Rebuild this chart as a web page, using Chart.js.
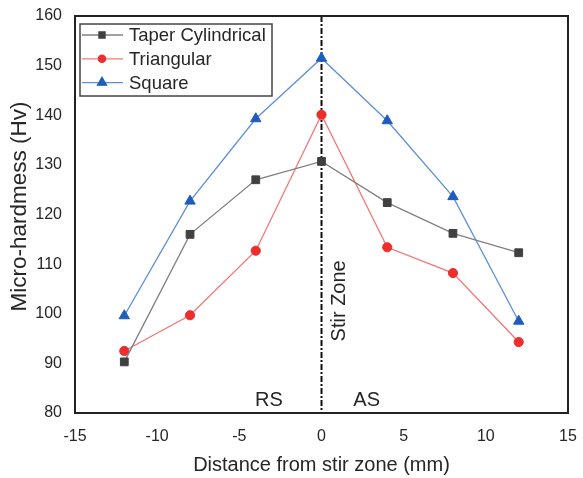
<!DOCTYPE html>
<html>
<head>
<meta charset="utf-8">
<script src="https://cdn.jsdelivr.net/npm/chart.js@4/dist/chart.umd.min.js"></script>
<style>
  html, body { margin: 0; padding: 0; background: #fff; }
  #wrap { width: 583px; height: 478px; }
</style>
</head>
<body>
<div id="wrap"><canvas id="chart"></canvas></div>
<script>
// --- data ---
const distances = [-12, -8, -4, 0, 4, 8, 12];
const taperCylindrical = [90.3, 116.0, 127.0, 130.7, 122.4, 116.2, 112.3];
const triangular = [92.5, 99.7, 112.7, 140.1, 113.4, 108.2, 94.3];
const square = [99.6, 122.7, 139.3, 151.5, 138.9, 123.6, 98.5];

const xTicks = [-15, -10, -5, 0, 5, 10, 15];
const yTicks = [80, 90, 100, 110, 120, 130, 140, 150, 160];

const FONT = "'Liberation Sans', Arial, sans-serif";
const TEXT = '#262626';

function toPoints(values) {
    return distances.map((d, i) => ({ x: d, y: values[i] }));
}

const seriesStyle = [
    { label: 'Taper Cylindrical', data: taperCylindrical, line: '#808080', mark: '#404040', style: 'rect', r: 5.5, lr: 4.3 },
    { label: 'Triangular', data: triangular, line: '#f27676', mark: '#ee2d2d', style: 'circle', r: 4.6, lr: 3.6 },
    { label: 'Square', data: square, line: '#5d8fd8', mark: '#1e5cbf', style: 'triangle', r: 6, lr: 5.2 }
];

// 0 위치 수직선, 글자, 범례, 테두리
const decorPlugin = {
    id: 'decor',
    beforeDatasetsDraw(chart) {
        const { ctx, chartArea, scales } = chart;
        const x0 = scales.x.getPixelForValue(0);
        ctx.save();
        ctx.strokeStyle = '#111';
        ctx.lineWidth = 2;
        ctx.setLineDash([6, 2, 2, 2]);
        ctx.beginPath();
        ctx.moveTo(x0, chartArea.top);
        ctx.lineTo(x0, chartArea.bottom);
        ctx.stroke();
        ctx.restore();
    },
    afterDatasetsDraw(chart) {
        const { ctx, chartArea, scales } = chart;
        ctx.save();
        // 테두리
        ctx.strokeStyle = '#222';
        ctx.lineWidth = 2;
        ctx.strokeRect(chartArea.left, chartArea.top, chartArea.right - chartArea.left, chartArea.bottom - chartArea.top);

        // y축 제목 (원본은 가운데보다 조금 위)
        ctx.fillStyle = TEXT;
        ctx.textAlign = 'center';
        ctx.textBaseline = 'middle';
        ctx.save();
        ctx.font = '22.5px ' + FONT;
        ctx.translate(20, (chartArea.top + chartArea.bottom) / 2 - 8);
        ctx.rotate(-Math.PI / 2);
        ctx.fillText('Micro-hardmess (Hv)', 0, 0);
        ctx.restore();

        // 영역 글자
        ctx.font = '20px ' + FONT;
        ctx.fillText('RS', scales.x.getPixelForValue(-3.2), scales.y.getPixelForValue(82.6));
        ctx.fillText('AS', scales.x.getPixelForValue(2.75), scales.y.getPixelForValue(82.6));
        ctx.save();
        ctx.translate(scales.x.getPixelForValue(1.1), scales.y.getPixelForValue(22.6 + 80));
        ctx.rotate(-Math.PI / 2);
        ctx.fillText('Stir Zone', 0, 0);
        ctx.restore();

        // 범례
        const bx = chartArea.left + 5, by = chartArea.top + 8;
        ctx.strokeStyle = '#444';
        ctx.lineWidth = 1.5;
        ctx.strokeRect(bx, by, 192, 72);
        ctx.font = '18.5px ' + FONT;
        ctx.textAlign = 'left';
        seriesStyle.forEach((s, i) => {
            const ry = by + 11 + i * 23.8;
            ctx.strokeStyle = s.line;
            ctx.lineWidth = 1.3;
            ctx.beginPath();
            ctx.moveTo(bx + 2, ry);
            ctx.lineTo(bx + 43, ry);
            ctx.stroke();
            ctx.fillStyle = s.mark;
            ctx.strokeStyle = s.mark;
            Chart.helpers.drawPoint(ctx, { pointStyle: s.style, radius: s.lr, borderWidth: 1, rotation: 0 }, bx + 22, ry);
            ctx.fillStyle = TEXT;
            ctx.fillText(s.label, bx + 49, ry + 1);
        });
        ctx.restore();
    }
};

const ctx = document.getElementById('chart').getContext('2d');
new Chart(ctx, {
    type: 'line',
    data: {
        datasets: seriesStyle.map(s => ({
            label: s.label,
            data: toPoints(s.data),
            borderColor: s.line,
            borderWidth: 1.3,
            backgroundColor: s.mark,
            pointBackgroundColor: s.mark,
            pointBorderColor: s.mark,
            pointBorderWidth: 1,
            pointStyle: s.style,
            pointRadius: s.r,
            tension: 0,
            fill: false
        }))
    },
    options: {
        responsive: true,
        maintainAspectRatio: false,
        animation: false,
        layout: { padding: { left: 0, right: 15, top: 16, bottom: 0 } },
        plugins: {
            legend: { display: false },
            tooltip: { enabled: false }
        },
        scales: {
            x: {
                type: 'linear',
                min: -15,
                max: 15,
                afterFit(scale) {
                    scale.height = 65;
                    scale.paddingLeft = 0;
                    scale.paddingRight = 0;
                },
                afterBuildTicks(scale) { scale.ticks = xTicks.map(v => ({ value: v })); },
                grid: { display: false, drawTicks: false },
                border: { display: false },
                ticks: { padding: 14, color: TEXT, font: { family: FONT, size: 16 } },
                title: {
                    display: true,
                    text: 'Distance from stir zone (mm)',
                    color: TEXT,
                    font: { family: FONT, size: 20 },
                    padding: { top: 1, bottom: 1 }
                }
            },
            y: {
                min: 80,
                max: 160,
                afterFit(scale) {
                    scale.width = 75;
                    scale.paddingTop = 0;
                    scale.paddingBottom = 0;
                },
                afterBuildTicks(scale) { scale.ticks = yTicks.map(v => ({ value: v })); },
                grid: { display: false, drawTicks: false },
                border: { display: false },
                ticks: { padding: 13, color: TEXT, font: { family: FONT, size: 16 } },
                title: { display: false }
            }
        }
    },
    plugins: [decorPlugin]
});
</script>
</body>
</html>
